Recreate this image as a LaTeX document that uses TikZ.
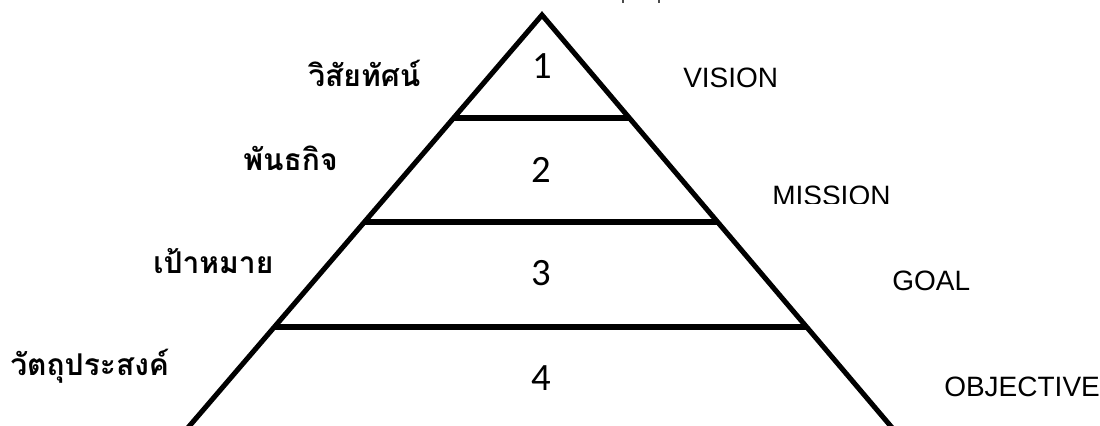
\documentclass[tikz,border=0pt]{standalone}
\usepackage{fontspec}
\setmainfont{Liberation Sans}
\newfontfamily\thaifont[Script=Thai]{Loma}
\newfontfamily\numfont{Carlito}
\usetikzlibrary{calc}
\tikzset{
  edge/.style={line width=3.8pt, black},
  eng/.style={inner sep=0pt, anchor=base west, font=\fontsize{21}{21}\selectfont},
  thai/.style={inner sep=0pt, anchor=base west, font=\thaifont\bfseries\fontsize{22.5}{22.5}\selectfont},
  num/.style={inner sep=0pt, anchor=base, font=\numfont\fontsize{29}{29}\selectfont}
}
\begin{document}
\begin{tikzpicture}[x=0.75pt,y=-0.75pt]
\useasboundingbox (0,0) rectangle (1100,425);
\begin{scope}
\clip (0,0) rectangle (1100,425);
\coordinate (A) at (542,15);
\coordinate (BL) at (186,430);
\coordinate (BR) at (894,430);
\draw[edge, line join=miter] (BL) -- (A) -- (BR);
\draw[edge] ($(A)!0.2482!(BL)$) -- ($(A)!0.2482!(BR)$);
\draw[edge] ($(A)!0.4988!(BL)$) -- ($(A)!0.4988!(BR)$);
\draw[edge] ($(A)!0.7518!(BL)$) -- ($(A)!0.7518!(BR)$);
\end{scope}
% residue marks at top
\draw[line width=1.5pt, black!70] (623,0) -- (623,3);
\draw[line width=1.5pt, black!70] (659,0) -- (659,3);
% numbers
\node[num] (n1) at (542,78) {1};
\node[num] (n2) at (541,182) {2};
\node[num] (n3) at (541,285) {3};
\node[num] (n4) at (541,390) {4};
% Thai labels
\node[thai] (t1) at (308,86) {วิสัยทัศน์};
\node[thai] (t2) at (243,170) {พันธกิจ};
\node[thai] (t3) at (153,273) {เป้าหมาย};
\node[thai] (t4) at (10,375) {วัตถุประสงค์};
% English labels
\node[eng] (e1) at (683,87) {VISION};
\begin{scope}
\clip (700,150) rectangle (1000,203);
\node[eng] (e2) at (772,205) {MISSION};
\end{scope}
\node[eng] (e3) at (892,290) {GOAL};
\node[eng] (e4) at (944,396) {OBJECTIVE};
\end{tikzpicture}
\end{document}
